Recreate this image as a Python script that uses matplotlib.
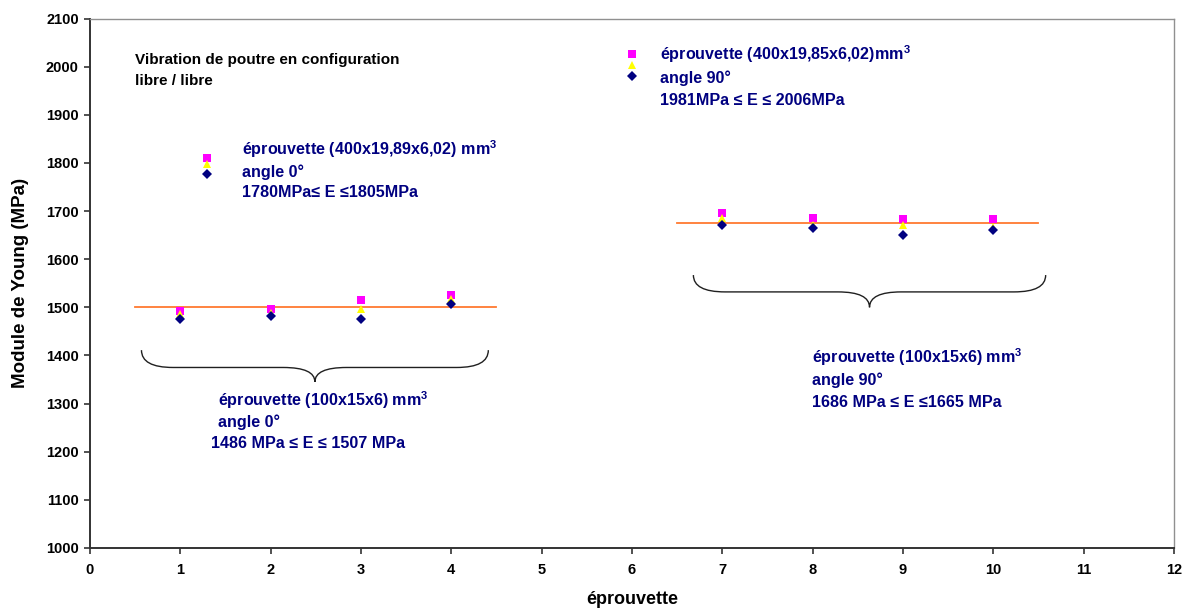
#!/usr/bin/env python3
"""Young's modulus of beam specimens measured by free/free vibration."""
import matplotlib
matplotlib.use("Agg")
import matplotlib.pyplot as plt
from matplotlib.path import Path
from matplotlib.patches import PathPatch

# specimen index of the short (100x15x6) beams
x_short = [1, 2, 3, 4, 7, 8, 9, 10]
E_short_square = [1493, 1496, 1515, 1525, 1696, 1686, 1683, 1683]
E_short_triangle = [1487, 1489, 1496, 1517, 1686, 1670, 1670, 1667]
E_short_diamond = [1475, 1481, 1475, 1506, 1672, 1665, 1651, 1661]

# long (400 mm) beams, angle 0 and angle 90
x_long = [1.3, 6]
E_long_square = [1810, 2026]
E_long_triangle = [1797, 2004]
E_long_diamond = [1778, 1981]

# mean lines for each group
mean_start = [0.5, 6.5]
mean_end = [4.5, 10.5]
mean_E = [1500, 1675]

NAVY = "#000080"
ORANGE = "#FF7A30"

plt.rcParams["font.family"] = ["Liberation Sans", "DejaVu Sans"]
plt.rcParams["mathtext.fontset"] = "custom"
plt.rcParams["mathtext.rm"] = "Liberation Sans:bold"
plt.rcParams["mathtext.bf"] = "Liberation Sans:bold"


def brace(ax, x0, x1, xtip, y_end, y_mid, y_tip, w):
    """Draw a horizontal curly brace opening upward, tip pointing down."""
    verts = [
        (x0, y_end), (x0, y_mid), (x0 + w, y_mid),
        (xtip - w, y_mid),
        (xtip, y_mid), (xtip, y_tip),
        (xtip, y_mid), (xtip + w, y_mid),
        (x1 - w, y_mid),
        (x1, y_mid), (x1, y_end),
    ]
    codes = [
        Path.MOVETO, Path.CURVE3, Path.CURVE3,
        Path.LINETO,
        Path.CURVE3, Path.CURVE3,
        Path.CURVE3, Path.CURVE3,
        Path.LINETO,
        Path.CURVE3, Path.CURVE3,
    ]
    ax.add_patch(PathPatch(Path(verts, codes), facecolor="none",
                           edgecolor="#202020", linewidth=1.0, zorder=2))


fig = plt.figure(figsize=(11.87, 6.09), dpi=100)
ax = fig.add_axes([0.0758, 0.1002, 0.9132, 0.8694])

for xs, xe, m in zip(mean_start, mean_end, mean_E):
    ax.plot([xs, xe], [m, m], color=ORANGE, linewidth=1.3, zorder=2)

mk = dict(linestyle="none", markeredgewidth=0)
ax.plot(x_short + x_long, E_short_square + E_long_square,
        marker="s", color="#FF00FF", markersize=5.3, zorder=3, **mk)
ax.plot(x_short + x_long, E_short_triangle + E_long_triangle,
        marker="^", color="#FFFF00", markersize=6.3, zorder=3.5, **mk)
ax.plot(x_short + x_long, E_short_diamond + E_long_diamond,
        marker="D", color=NAVY, markersize=4.8, zorder=4, **mk)

brace(ax, 0.57, 4.41, 2.49, 1411, 1375, 1345, 0.35)
brace(ax, 6.68, 10.58, 8.63, 1567, 1532, 1500, 0.35)

ax.set_xlim(0, 12)
ax.set_ylim(1000, 2100)
ax.set_xticks(range(0, 13))
ax.set_yticks(range(1000, 2101, 100))
ax.tick_params(direction="out", length=4, width=1.2, color="#333333",
               labelsize=10.5)
ax.tick_params(axis="x", pad=7)
ax.tick_params(axis="y", pad=4)
for lab in ax.get_xticklabels() + ax.get_yticklabels():
    lab.set_fontweight("bold")
for side in ["left", "bottom"]:
    ax.spines[side].set_color("#333333")
    ax.spines[side].set_linewidth(1.4)
for side in ["top", "right"]:
    ax.spines[side].set_color("#909090")
    ax.spines[side].set_linewidth(1.0)

ax.set_xlabel("éprouvette", fontsize=13, fontweight="bold", labelpad=10)
ax.set_ylabel("Module de Young (MPa)", fontsize=13.5, fontweight="bold",
              labelpad=12)

txt = dict(fontsize=11.6, fontweight="bold", color=NAVY, va="baseline")
blk = dict(fontsize=11, fontweight="bold", color="black", va="baseline")
ax.text(0.50, 2004.6, "Vibration de poutre en configuration", **blk)
ax.text(0.50, 1961, "libre / libre", **blk)

ax.text(1.68, 1815.7, "éprouvette (400x19,89x6,02) mm$^3$", **txt)
ax.text(1.68, 1770.7, "angle 0°", **txt)
ax.text(1.68, 1729, "1780MPa≤ E ≤1805MPa", **txt)

ax.text(6.31, 2012.9, "éprouvette (400x19,85x6,02)mm$^3$", **txt)
ax.text(6.31, 1966.6, "angle 90°", **txt)
ax.text(6.31, 1919.5, "1981MPa ≤ E ≤ 2006MPa", **txt)

ax.text(7.99, 1383.4, "éprouvette (100x15x6) mm$^3$", **txt)
ax.text(7.99, 1338.3, "angle 90°", **txt)
ax.text(7.99, 1292, "1686 MPa ≤ E ≤1665 MPa", **txt)

ax.text(1.42, 1294.7, "éprouvette (100x15x6) mm$^3$", **txt)
ax.text(1.42, 1251.8, "angle 0°", **txt)
ax.text(1.34, 1208.2, "1486 MPa ≤ E ≤ 1507 MPa", **txt)

fig.savefig("out.png", dpi=100)
